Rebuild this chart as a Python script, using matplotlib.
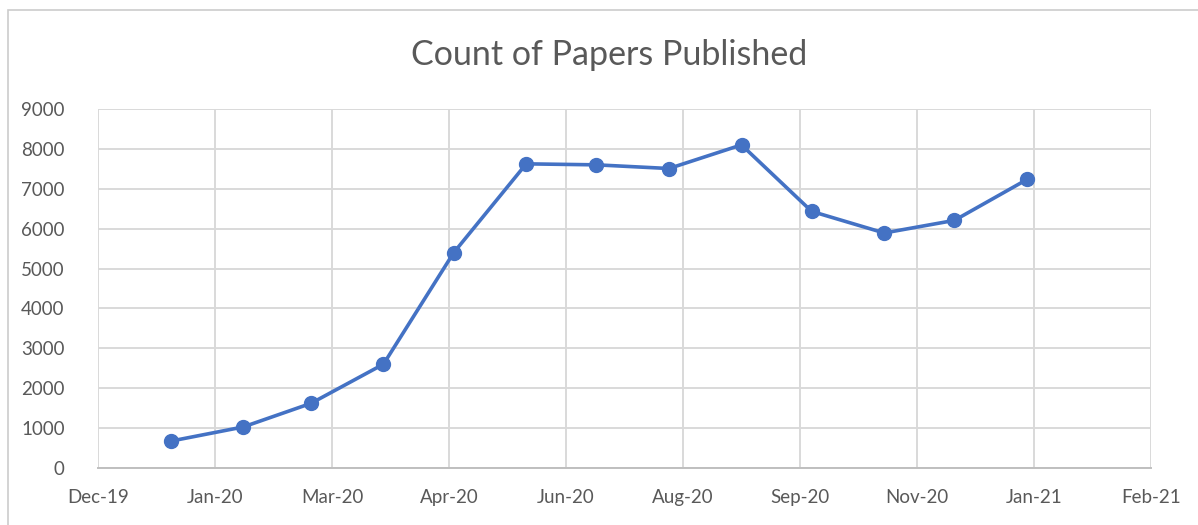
import datetime as dt
import matplotlib
matplotlib.use("Agg")
import matplotlib.pyplot as plt
import matplotlib.dates as mdates
from matplotlib.patches import Rectangle

plt.rcParams['font.family'] = ['Lato', 'DejaVu Sans']

# monthly counts, first of each month Jan 2020 .. Jan 2021
months = [dt.date(2020, m, 1) for m in range(1, 13)] + [dt.date(2021, 1, 1)]
papers = [673, 1028, 1620, 2603, 5397, 7625, 7600, 7508, 8100, 6433, 5892, 6208, 7233]

# Excel-style date axis: start 1-Dec-2019, major unit 50 days
x_start = dt.date(2019, 12, 1)
x_ticks = [x_start + dt.timedelta(days=50 * i) for i in range(10)]
y_ticks = list(range(0, 9001, 1000))

fig = plt.figure(figsize=(11.98, 5.25), dpi=100)
fig.patches.append(Rectangle((8 / 1198, -0.1), 1.2, (525 - 10) / 525 + 0.1,
                             transform=fig.transFigure, fill=False,
                             edgecolor='#cccccc', linewidth=1.2))

ax = fig.add_axes([98 / 1198, 57 / 525, (1151 - 98) / 1198, (468 - 109) / 525])
ax.plot(months, papers, color='#4472C4', linewidth=2.6, marker='o',
        markersize=10, zorder=3)

ax.set_xlim(x_ticks[0], x_ticks[-1])
ax.set_ylim(0, 9000)
ax.set_xticks(x_ticks)
ax.xaxis.set_major_formatter(mdates.DateFormatter('%b-%y'))
ax.set_yticks(y_ticks)

ax.grid(True, color='#d9d9d9', linewidth=1.4)
ax.set_axisbelow(True)
for side in ['top', 'right', 'left']:
    ax.spines[side].set_visible(False)
ax.spines['bottom'].set_color('#bfbfbf')
ax.spines['bottom'].set_linewidth(1.4)
ax.tick_params(length=0, labelsize=13.5, labelcolor='#595959')
ax.tick_params(axis='y', pad=24)
ax.tick_params(axis='x', pad=15)

fig.suptitle('Count of Papers Published', x=609 / 1198, y=(525 - 55) / 525,
             va='center', fontsize=24.5, color='#595959')

fig.savefig('out.png', dpi=100)
